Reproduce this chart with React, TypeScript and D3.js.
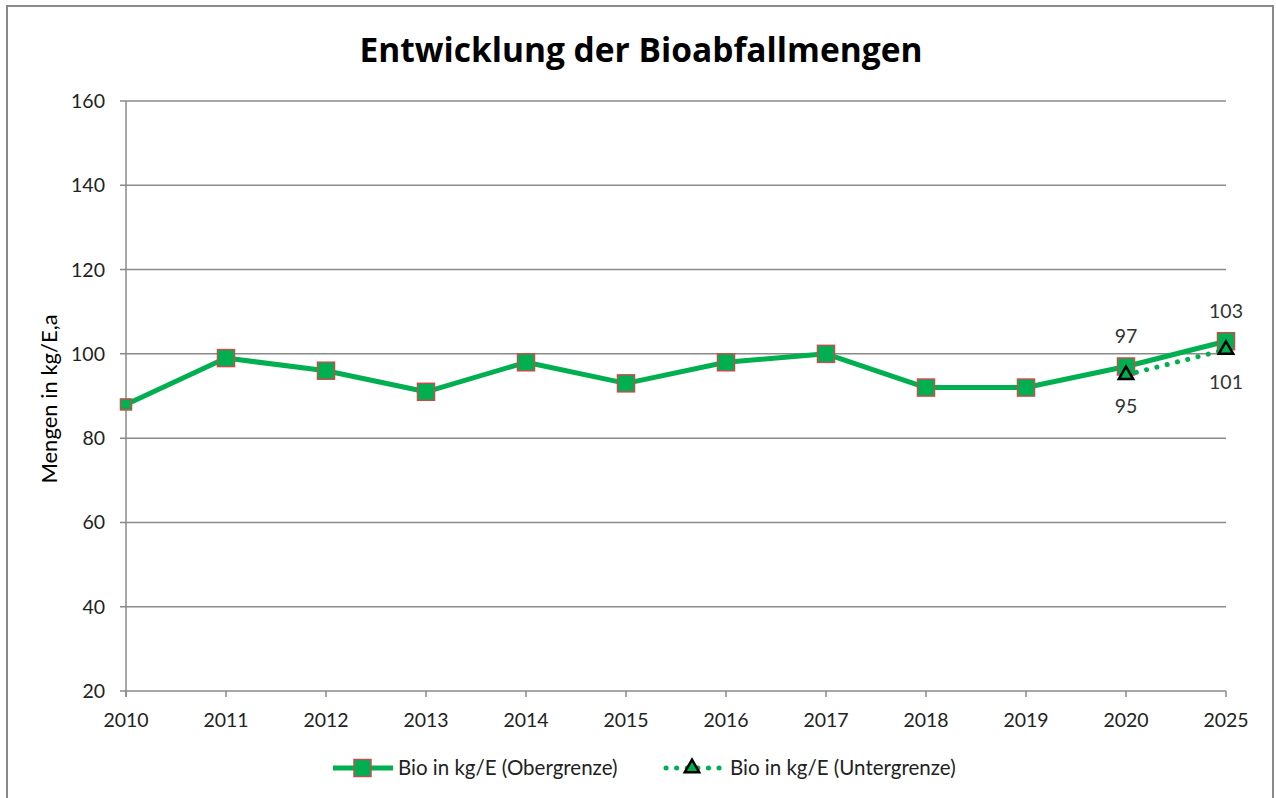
import React from "react";
import * as d3 from "d3";

const years = ["2010", "2011", "2012", "2013", "2014", "2015", "2016", "2017", "2018", "2019", "2020", "2025"];
const obergrenze = [88, 99, 96, 91, 98, 93, 98, 100, 92, 92, 97, 103];
const untergrenzeYears = ["2020", "2025"];
const untergrenze = [95, 101];
const yTicks = [20, 40, 60, 80, 100, 120, 140, 160];

const W = 1276;
const H = 798;
const margin = { left: 126, right: 50, top: 101, bottom: 107 };
const GREEN = "#00B050";
const GRID = "#8a8a8a";
const FONT = "Lato, 'Open Sans', sans-serif";

export default function App() {
  const x = d3
    .scalePoint<string>()
    .domain(years)
    .range([margin.left, W - margin.right]);
  const y = d3
    .scaleLinear()
    .domain([20, 160])
    .range([H - margin.bottom, margin.top]);

  const line = d3
    .line<number>()
    .x((_, i) => x(years[i]) as number)
    .y((d) => y(d));
  const lineU = d3
    .line<number>()
    .x((_, i) => x(untergrenzeYears[i]) as number)
    .y((d) => y(d));

  const tri = d3.symbol(d3.symbolTriangle, 90)() as string;

  return (
    <>
      <style>{"body{margin:0}"}</style>
      <svg width={W} height={H} style={{ display: "block", fontFamily: FONT }}>
        <rect x={0} y={0} width={W} height={H} fill="#fff" />
        <rect x={7} y={6} width={1266} height={800} fill="none" stroke={GRID} strokeWidth={2} />
        <text
          x={641}
          y={62}
          textAnchor="middle"
          fontSize={33.5}
          fontWeight="bold"
          fill="#000"
          style={{ fontFamily: "'Open Sans', Lato, sans-serif" }}
        >
          Entwicklung der Bioabfallmengen
        </text>

        {/* gridlines + y ticks */}
        {yTicks.map((t) => (
          <g key={t}>
            <line x1={margin.left - 6} x2={W - margin.right} y1={y(t)} y2={y(t)} stroke={GRID} strokeWidth={1.5} />
            <text x={105} y={y(t)} dy="0.36em" textAnchor="end" fontSize={19.5} fill="#222">
              {t}
            </text>
          </g>
        ))}
        <line x1={margin.left} x2={margin.left} y1={margin.top} y2={H - margin.bottom + 6} stroke={GRID} strokeWidth={1.5} />

        {/* x ticks */}
        {years.map((yr) => (
          <g key={yr}>
            <line x1={x(yr)} x2={x(yr)} y1={H - margin.bottom} y2={H - margin.bottom + 6} stroke={GRID} strokeWidth={1.5} />
            <text x={x(yr)} y={727} textAnchor="middle" fontSize={19.5} fill="#222">
              {yr}
            </text>
          </g>
        ))}

        <text transform="translate(57,399) rotate(-90)" textAnchor="middle" fontSize={22} fill="#000">
          Mengen in kg/E,a
        </text>

        {/* Obergrenze */}
        <path d={line(obergrenze) as string} fill="none" stroke={GREEN} strokeWidth={5} strokeLinejoin="round" />
        {obergrenze.map((v, i) => {
          const s = i === 0 ? 11 : 17;
          return (
            <rect
              key={i}
              x={(x(years[i]) as number) - s / 2}
              y={y(v) - s / 2}
              width={s}
              height={s}
              fill={GREEN}
              stroke="#C0504D"
              strokeWidth={1.5}
            />
          );
        })}

        {/* Untergrenze */}
        <path
          d={lineU(untergrenze) as string}
          fill="none"
          stroke={GREEN}
          strokeWidth={5}
          strokeLinecap="round"
          strokeDasharray="0.1 10.5"
        />
        {untergrenze.map((v, i) => (
          <path
            key={i}
            d={tri}
            transform={`translate(${x(untergrenzeYears[i])},${y(v)})`}
            fill={GREEN}
            stroke="#000"
            strokeWidth={2.5}
          />
        ))}

        {/* data labels */}
        <text x={x("2020")} y={y(obergrenze[10]) - 23.5} textAnchor="middle" fontSize={19.5} fill="#333">
          {obergrenze[10]}
        </text>
        <text x={x("2025")} y={y(obergrenze[11]) - 23} textAnchor="middle" fontSize={19.5} fill="#333">
          {obergrenze[11]}
        </text>
        <text x={x("2020")} y={y(untergrenze[0]) + 38} textAnchor="middle" fontSize={19.5} fill="#333">
          {untergrenze[0]}
        </text>
        <text x={x("2025")} y={y(untergrenze[1]) + 39.5} textAnchor="middle" fontSize={19.5} fill="#333">
          {untergrenze[1]}
        </text>

        {/* legend */}
        <g transform="translate(0,768)">
          <line x1={333} x2={393} y1={0} y2={0} stroke={GREEN} strokeWidth={5} />
          <rect x={354} y={-8.5} width={17} height={17} fill={GREEN} stroke="#C0504D" strokeWidth={1.5} />
          <text x={398} y={0} dy="0.36em" fontSize={20.5} fill="#222">
            Bio in kg/E (Obergrenze)
          </text>
          <line x1={666} x2={720} y1={0} y2={0} stroke={GREEN} strokeWidth={5} strokeLinecap="round" strokeDasharray="0.1 10.5" />
          <path d={tri} transform="translate(692,0)" fill={GREEN} stroke="#000" strokeWidth={2.5} />
          <text x={730} y={0} dy="0.36em" fontSize={20.5} fill="#222">
            Bio in kg/E (Untergrenze)
          </text>
        </g>
      </svg>
    </>
  );
}
